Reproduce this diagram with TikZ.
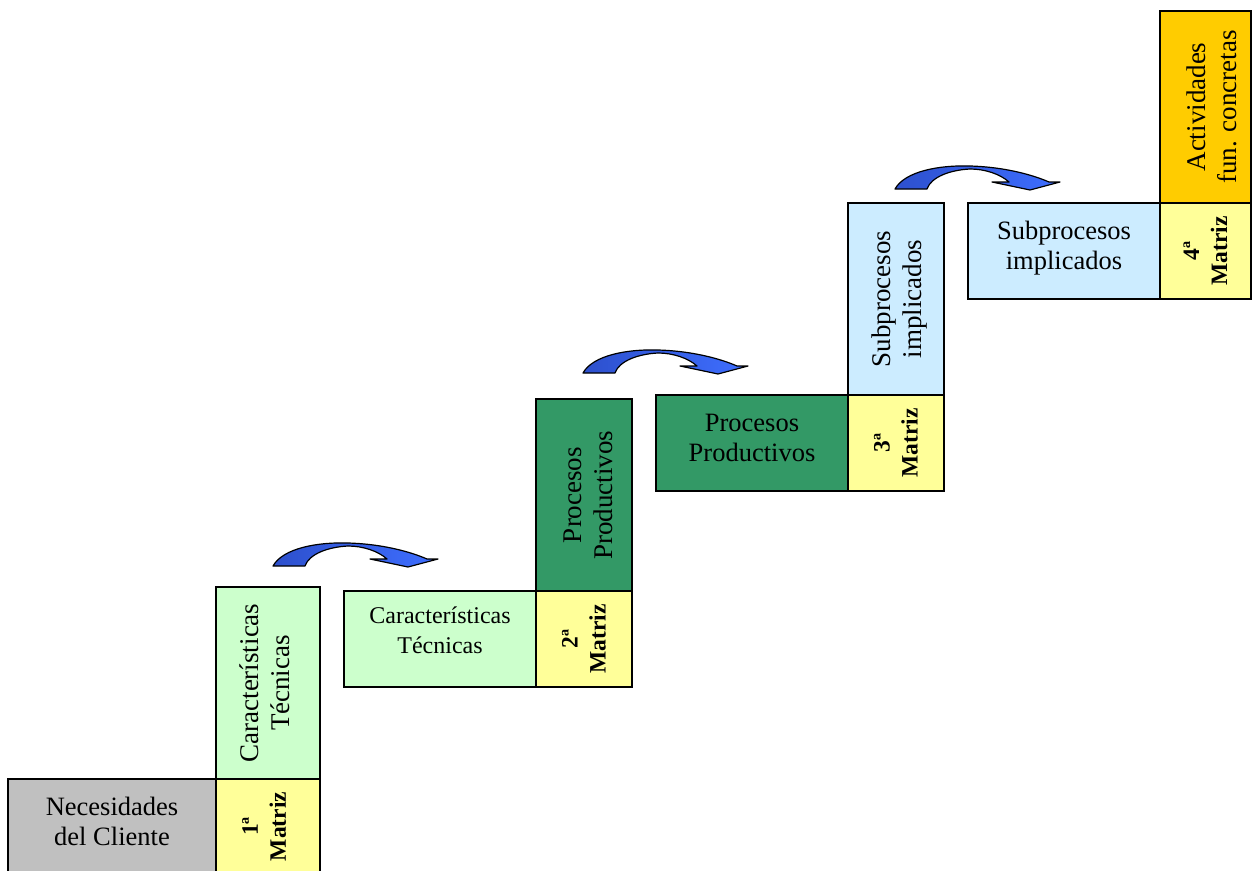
\documentclass[tikz,border=0pt]{standalone}
\usepackage{fontspec}
\setmainfont{Liberation Serif}
\definecolor{grisnec}{RGB}{192,192,192}
\definecolor{amarillo}{RGB}{255,255,153}
\definecolor{verdeclaro}{RGB}{204,255,204}
\definecolor{verdeoscuro}{RGB}{51,153,102}
\definecolor{azulclaro}{RGB}{204,236,255}
\definecolor{naranja}{RGB}{255,204,0}
\definecolor{flechaosc}{RGB}{45,80,205}
\definecolor{flechaclr}{RGB}{62,110,255}
\tikzset{
  box/.style={draw=black, line width=1.5pt, inner sep=0pt, outer sep=0pt,
    align=center, font=\fontsize{26.5}{30.5}\selectfont},
  vbox/.style={box, rotate=90, font=\fontsize{27}{31}\selectfont},
  mbox/.style={box, rotate=90, fill=amarillo,
    font=\fontsize{23.5}{28}\selectfont\bfseries},
  pics/curvearrow/.style={code={
    \draw[line width=1.2pt, line join=round,
          left color=flechaosc, right color=flechaclr]
      (0,0) .. controls (10,-18) and (45,-24) .. (75,-23)
      .. controls (110,-22) and (138,-14) .. (154,-7)
      -- (165,-7) -- (135,1) -- (97,-7) -- (114,-7)
      .. controls (105,-15) and (90,-20) .. (75,-20)
      .. controls (55,-19) and (36,-12) .. (32,0) -- cycle;
  }}
}
\begin{document}
\begin{tikzpicture}[x=1pt,y=-1pt]
\useasboundingbox (0,0) rectangle (1252,870);

% stage 1
\node[box, fill=grisnec, minimum width=208pt, minimum height=95pt, text depth=10pt] (nec) at (112,826.5) {Necesidades\\del Cliente};
\node[mbox, minimum width=95pt, minimum height=104pt, text depth=8pt] (m1) at (268,826.5) {1ª\\Matriz};
\node[vbox, fill=verdeclaro, minimum width=192pt, minimum height=104pt, text depth=6pt] (v1) at (268,683) {Características\\Técnicas};

% stage 2
\node[box, fill=verdeclaro, minimum width=192pt, minimum height=96pt, text depth=18pt, font=\fontsize{24}{30}\selectfont] (h2) at (440,639) {Características\\Técnicas};
\node[mbox, minimum width=96pt, minimum height=96pt] (m2) at (584,639) {2ª\\Matriz};
\node[vbox, fill=verdeoscuro, minimum width=192pt, minimum height=96pt, text height=57.5pt] (v2) at (584,495) {Procesos\\Productivos};

% stage 3
\node[box, fill=verdeoscuro, minimum width=192pt, minimum height=96pt, text depth=10pt] (h3) at (752,443) {Procesos\\Productivos};
\node[mbox, minimum width=96pt, minimum height=96pt] (m3) at (896,443) {3ª\\Matriz};
\node[vbox, fill=azulclaro, minimum width=192pt, minimum height=96pt, text height=57.5pt] (v3) at (896,299) {Subprocesos\\implicados};

% stage 4
\node[box, fill=azulclaro, minimum width=192pt, minimum height=96pt, text depth=11pt] (h4) at (1064,251) {Subprocesos\\implicados};
\node[mbox, minimum width=96pt, minimum height=91pt] (m4) at (1205.5,251) {4ª\\Matriz};
\node[vbox, fill=naranja, minimum width=192pt, minimum height=91pt, text height=61.5pt] (v4) at (1205.5,107) {Actividades\\fun. concretas};

% curved arrows between stages
\pic at (273,566) {curvearrow};
\pic at (583,373) {curvearrow};
\pic at (895,189) {curvearrow};
\end{tikzpicture}
\end{document}
